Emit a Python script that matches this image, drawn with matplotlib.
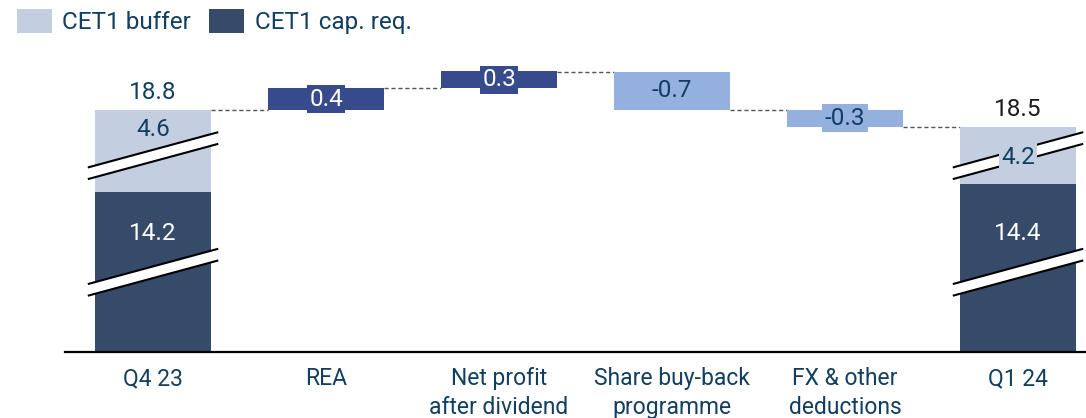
import matplotlib.pyplot as plt
from matplotlib.patches import Patch, Polygon

# Data
categories = ['Q4 23', 'REA', 'Net profit\nafter dividend', 'Share buy-back\nprogramme',
              'FX & other\ndeductions', 'Q1 24']
start_req, start_buf, start_total = 14.2, 4.6, 18.8
end_req, end_buf, end_total = 14.4, 4.2, 18.5
deltas = [0.4, 0.3, -0.7, -0.3]

# Colours
c_buf = '#c3cfe1'
c_req = '#364b6a'
c_pos = '#374b8c'
c_neg = '#94b0df'
c_txt = '#123e5f'

plt.rcParams['font.family'] = ['Roboto', 'DejaVu Sans']

fig = plt.figure(figsize=(10.86, 4.18), dpi=100)
ax = fig.add_axes([65 / 1086, 66 / 418, 1021 / 1086, 352 / 418])

width = 0.67
floor = 14.4          # axis is broken, bottom of the visible window
split_vis = [17.31, 17.455]   # where the buffer segment starts (visual only)
break_y = [17.97, 15.85]      # heights of the two break marks
fs = 17.5

# start / end stacked bars (broken)
for i, req, total, sv in [(0, start_req, start_total, split_vis[0]),
                          (5, end_req, end_total, split_vis[1])]:
    ax.bar(i, sv - floor, width, bottom=floor, color=c_req, zorder=2)
    ax.bar(i, total - sv, width, bottom=sv, color=c_buf, zorder=2)
    for by in break_y:
        hw, dy, gap = 0.377, 0.321, 0.106
        poly = Polygon([(i - hw, by - dy - gap), (i + hw, by + dy - gap),
                        (i + hw, by + dy + gap), (i - hw, by - dy + gap)],
                       closed=True, facecolor='white', edgecolor='none', zorder=3)
        ax.add_patch(poly)
        for s in (-gap, gap):
            ax.plot([i - hw, i + hw], [by - dy + s, by + dy + s], color='black',
                    lw=1.5, zorder=4, solid_capstyle='butt')
    ax.text(i, 16.56, f'{req:.1f}', ha='center', va='center',
            fontsize=fs, color='white', zorder=5)
    ax.annotate(f'{total:.1f}', (i, total), xytext=(0, 12.5), textcoords='offset points',
                ha='center', va='center', fontsize=fs,
                color=c_txt if i == 0 else '#1a1a1a', zorder=5)

ax.text(0, start_total - 0.36, f'{start_buf:.1f}', ha='center', va='center', fontsize=fs,
        color=c_txt, zorder=5)
ax.text(5, end_total - 0.56, f'{end_buf:.1f}', ha='center', va='center', fontsize=fs,
        color=c_txt, zorder=6,
        bbox=dict(boxstyle='square,pad=0.1', facecolor=c_buf, edgecolor='none'))

# floating delta bars
level = start_total
for k, d in enumerate(deltas):
    i = k + 1
    bottom = level if d > 0 else level + d
    col = c_pos if d > 0 else c_neg
    ax.bar(i, abs(d), width, bottom=bottom, color=col, zorder=2)
    ax.text(i, bottom + abs(d) / 2, f'{d:.1f}', ha='center', va='center', fontsize=fs,
            color='white' if d > 0 else c_txt, zorder=5,
            bbox=dict(boxstyle='square,pad=0.1', facecolor=col, edgecolor='none'))
    # connector from previous bar
    ax.plot([i - 1 + width / 2, i - width / 2], [level, level], color='#555555',
            lw=1, ls=(0, (3, 2)), zorder=1)
    level += d
ax.plot([4 + width / 2, 5 - width / 2], [level, level], color='#555555',
        lw=1, ls=(0, (3, 2)), zorder=1)

ax.set_xlim(-0.509, 5.393)
ax.set_ylim(floor, 20.8)
ax.set_xticks(range(len(categories)))
ax.set_xticklabels(categories, fontsize=16.5, color=c_txt, linespacing=1.3)
ax.tick_params(axis='x', length=0, pad=11)
ax.set_yticks([])
for s in ['top', 'right', 'left']:
    ax.spines[s].set_visible(False)
ax.spines['bottom'].set_linewidth(1.6)
ax.spines['bottom'].set_zorder(6)

handles = [Patch(facecolor=c_buf, label='CET1 buffer'),
           Patch(facecolor=c_req, label='CET1 cap. req.')]
fig.legend(handles=handles, loc='upper left', bbox_to_anchor=(17 / 1086, 1 - 9 / 418),
           ncol=2, frameon=False, fontsize=fs, handlelength=1.42, handleheight=1.15,
           handletextpad=0.45, columnspacing=0.75, borderpad=0, borderaxespad=0,
           labelcolor=c_txt)

fig.savefig('out.png', dpi=100)
